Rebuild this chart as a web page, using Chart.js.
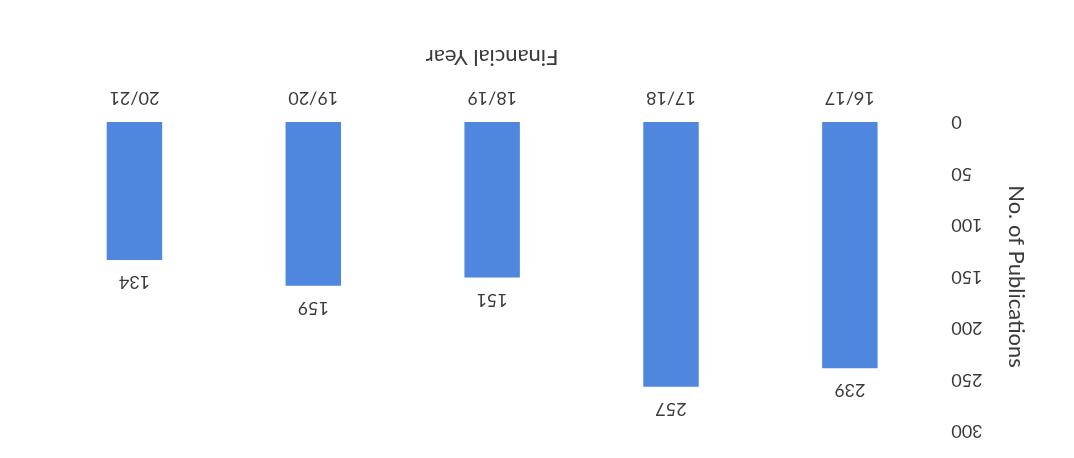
<!DOCTYPE html>
<html>
<head>
<meta charset="utf-8">
<script src="https://cdn.jsdelivr.net/npm/chart.js@4/dist/chart.umd.min.js"></script>
<style>
  html, body { margin: 0; padding: 0; background: #fff; }
  #wrap {
    position: relative;
    width: 1074px;
    height: 458px;
    transform: rotate(180deg);
  }
</style>
</head>
<body>
<div id="wrap"><canvas id="chart"></canvas></div>
<script>
const years = ['16/17', '17/18', '18/19', '19/20', '20/21'];
const publications = [239, 257, 151, 159, 134];
const yTicks = [0, 50, 100, 150, 200, 250, 300];

const FONT = 'Lato, "Open Sans", sans-serif';
const TEXT = '#3a3a3a';

// value printed above each bar
const barValues = {
    id: 'barValues',
    afterDatasetsDraw(chart) {
        const ctx = chart.ctx;
        const meta = chart.getDatasetMeta(0);
        ctx.save();
        ctx.font = '18px ' + FONT;
        ctx.fillStyle = TEXT;
        ctx.textAlign = 'center';
        ctx.textBaseline = 'bottom';
        meta.data.forEach((bar, i) => {
            ctx.fillText(publications[i], bar.x, bar.y - 13);
        });
        ctx.restore();
    }
};

new Chart(document.getElementById('chart'), {
    type: 'bar',
    data: {
        labels: years,
        datasets: [{
            data: publications,
            backgroundColor: '#4f86de',
            borderWidth: 0,
            barPercentage: 0.62,
            categoryPercentage: 0.5
        }]
    },
    options: {
        responsive: true,
        maintainAspectRatio: false,
        animation: false,
        layout: { padding: { left: 41, right: 45, top: 27, bottom: 40 } },
        plugins: {
            legend: { display: false },
            tooltip: { enabled: false }
        },
        scales: {
            x: {
                grid: { display: false },
                border: { display: false },
                ticks: { color: TEXT, font: { family: FONT, size: 18 }, padding: 5 },
                title: {
                    display: true,
                    text: 'Financial Year',
                    color: TEXT,
                    font: { family: FONT, size: 22 },
                    padding: { top: 12 }
                }
            },
            y: {
                min: 0,
                max: 300,
                afterBuildTicks(axis) {
                    axis.ticks = yTicks.map(v => ({ value: v }));
                },
                grid: { display: false },
                border: { display: false },
                ticks: { color: TEXT, font: { family: FONT, size: 18 }, padding: 4 },
                title: {
                    display: true,
                    text: 'No. of Publications',
                    color: TEXT,
                    font: { family: FONT, size: 22 },
                    padding: { bottom: 16 }
                }
            }
        }
    },
    plugins: [barValues]
});
</script>
</body>
</html>
